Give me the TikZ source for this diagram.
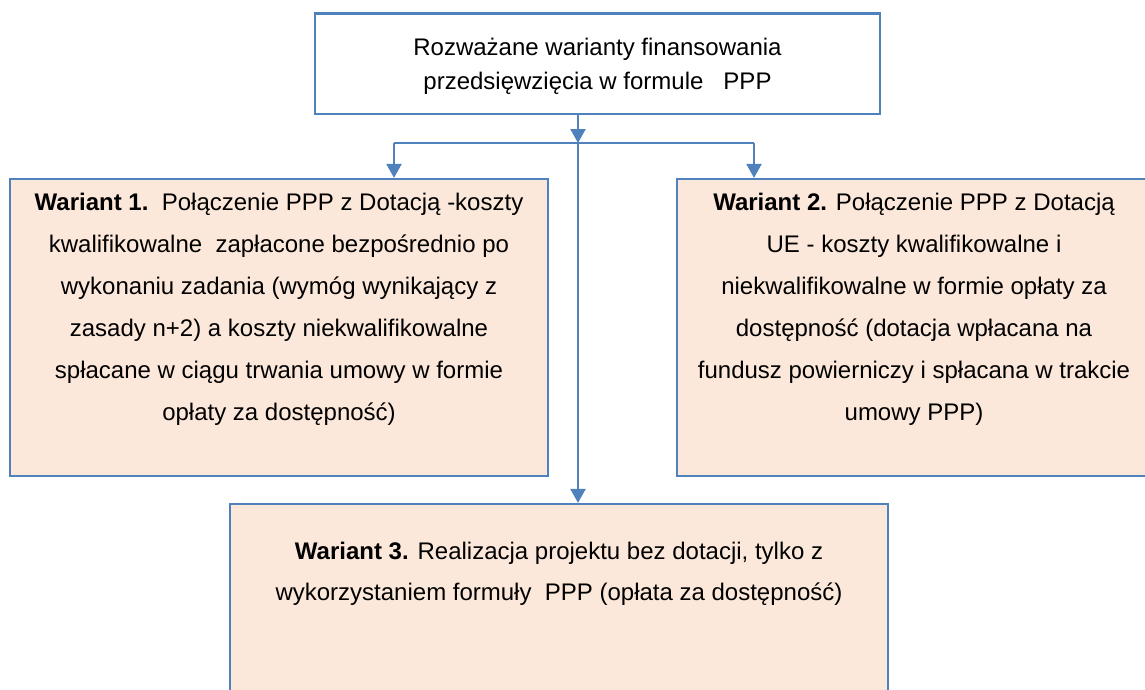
\documentclass[tikz,border=0pt]{standalone}
\usepackage{fontspec}
\setmainfont{Liberation Sans}
\usetikzlibrary{arrows.meta}
\definecolor{bordblue}{HTML}{4F81BD}
\definecolor{peach}{HTML}{FCE8DA}
\tikzset{
  box/.style={draw=bordblue, line width=2.2pt, inner sep=0pt},
  txt/.style={align=center, inner sep=0pt, anchor=base, font=\fontsize{24}{42}\selectfont},
  conn/.style={draw=bordblue, line width=2.2pt},
  arr/.style={conn, -{Triangle[width=15pt,length=14pt]}}
}
\begin{document}
\begin{tikzpicture}[x=1pt,y=-1pt]
\useasboundingbox (0,0) rectangle (1145,689);
\node[box, fill=white, minimum width=565pt, minimum height=100.5pt] (top) at (597.5,63.75) {};
\node[box, fill=peach, minimum width=538pt, minimum height=297pt] (left) at (279,327.5) {};
\node[box, fill=peach, minimum width=474pt, minimum height=297pt] (right) at (914,327.5) {};
\node[box, fill=peach, minimum width=658pt, minimum height=188pt] (bottom) at (559,598) {};

% anchor=base is the baseline of the last line
\node[txt, font=\fontsize{24}{34}\selectfont] (ttop) at (597.5,89) {Rozważane warianty finansowania\\ przedsięwzięcia w formule\ \ \ PPP};
\node[txt] (tleft) at (279,420) {\textbf{Wariant 1.}\ \ Połączenie PPP z Dotacją -koszty\\ kwalifikowalne\ \ zapłacone bezpośrednio po\\ wykonaniu zadania (wymóg wynikający z\\ zasady n+2) a koszty niekwalifikowalne\\ spłacane w ciągu trwania umowy w formie\\ opłaty za dostępność)};
\node[txt] (tright) at (914,420) {\textbf{Wariant 2.} Połączenie PPP z Dotacją\\ UE - koszty kwalifikowalne i\\ niekwalifikowalne w formie opłaty za\\ dostępność (dotacja wpłacana na\\ fundusz powierniczy i spłacana w trakcie\\ umowy PPP)};
\node[txt, font=\fontsize{24}{41.5}\selectfont] (tbottom) at (559,600.5) {\textbf{Wariant 3.} Realizacja projektu bez dotacji, tylko z\\ wykorzystaniem formuły\ \ PPP (opłata za dostępność)};

\coordinate (j) at (578,143);
\coordinate (jl) at (394,143);
\coordinate (jr) at (754,143);
\draw[arr] (top.south -| j) -- (j);
\draw[conn] (jl) -- (jr);
\draw[arr] (jl) -- (jl |- left.north);
\draw[arr] (jr) -- (jr |- right.north);
\draw[arr] (j) -- (j |- bottom.north);
\end{tikzpicture}
\end{document}
